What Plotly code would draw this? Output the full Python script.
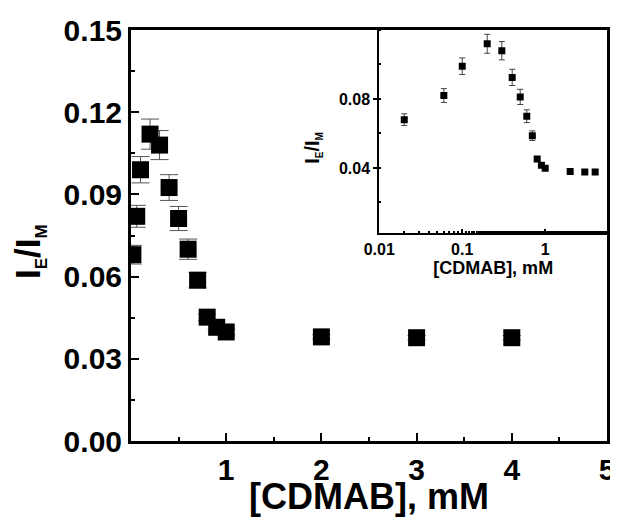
import plotly.graph_objects as go

# Data: [CDMAB] (mM), excimer/monomer ratio, error
conc = [0.02, 0.06, 0.1, 0.2, 0.3, 0.4, 0.5, 0.6, 0.7, 0.8, 0.9, 1.0, 2.0, 3.0, 4.0]
ratio = [0.068, 0.082, 0.099, 0.112, 0.108, 0.0925, 0.0812, 0.070, 0.0587, 0.0452, 0.0415, 0.0398, 0.038, 0.0377, 0.0377]
err = [0.0034, 0.0040, 0.0048, 0.0055, 0.0053, 0.0047, 0.0044, 0.0037, 0.0028, 0.0012, 0.0010, 0.0010, 0.0008, 0.0008, 0.0008]

main_xticks = [1, 2, 3, 4, 5]
main_yticks = [0.00, 0.03, 0.06, 0.09, 0.12, 0.15]
main_yticklabels = ["0.00", "0.03", "0.06", "0.09", "0.12", "0.15"]
inset_xticks = [0.01, 0.1, 1]
inset_xticklabels = ["0.01", "0.1", "1"]
inset_yticks = [0.04, 0.08]
inset_yticklabels = ["0.04", "0.08"]

FONT = "Liberation Sans, Arial, sans-serif"

fig = go.Figure()
fig.add_trace(go.Scatter(
    x=conc, y=ratio, mode="markers",
    marker=dict(symbol="square", size=17, color="black"),
    error_y=dict(type="data", array=err, color="#555555", thickness=1, width=9),
    xaxis="x", yaxis="y", showlegend=False))
fig.add_trace(go.Scatter(
    x=conc, y=ratio, mode="markers",
    marker=dict(symbol="square", size=7, color="black"),
    error_y=dict(type="data", array=err, color="#444444", thickness=1, width=3),
    xaxis="x2", yaxis="y2", showlegend=False))

# page body has an 8px default margin: figure is 610x509 drawn at (8,8)
fig.update_layout(
    width=610, height=509,
    margin=dict(l=123, r=11, t=22, b=76),
    paper_bgcolor="white", plot_bgcolor="white",
    font=dict(family=FONT, color="black"),
    xaxis=dict(
        range=[0, 5], domain=[0, 1], automargin=False,
        tickmode="array", tickvals=main_xticks,
        ticks="inside", ticklen=8, tickwidth=2, tickcolor="black",
        minor=dict(ticks="inside", ticklen=4, tickwidth=2, dtick=0.5, tick0=0, tickcolor="black"),
        showline=True, linewidth=3, linecolor="black", mirror=True,
        showgrid=False, zeroline=False,
        tickfont=dict(size=30, family=FONT, weight="bold"),
        title=dict(text="[CDMAB], mM", font=dict(size=36, family=FONT, weight="bold"), standoff=3),
    ),
    yaxis=dict(
        range=[0, 0.15], domain=[0, 1], automargin=False,
        tickmode="array", tickvals=main_yticks, ticktext=main_yticklabels,
        ticks="inside", ticklen=8, tickwidth=2, tickcolor="black",
        minor=dict(ticks="inside", ticklen=4, tickwidth=2, dtick=0.015, tick0=0, tickcolor="black"),
        showline=True, linewidth=3, linecolor="black", mirror=True,
        showgrid=False, zeroline=False,
        tickfont=dict(size=30, family=FONT, weight="bold"),
    ),
    xaxis2=dict(
        type="log", range=[-2, 0.745], domain=[0.5216, 1], anchor="y2", automargin=False,
        tickmode="array", tickvals=inset_xticks, ticktext=inset_xticklabels,
        ticks="inside", ticklen=4, tickwidth=1.5, tickcolor="black",
        minor=dict(ticks="inside", ticklen=2, tickwidth=1.5, tickcolor="black"),
        showline=True, linewidth=2, linecolor="black", mirror=False,
        showgrid=False, zeroline=False,
        tickfont=dict(size=16, family=FONT, weight="bold"),
        title=dict(text="[CDMAB], mM", font=dict(size=18, family=FONT, weight="bold"), standoff=4),
    ),
    yaxis2=dict(
        range=[0.002, 0.12], domain=[0.505, 1], anchor="x2", automargin=False,
        tickmode="array", tickvals=inset_yticks, ticktext=inset_yticklabels,
        ticks="outside", ticklen=4, tickwidth=1.5, tickcolor="black",
        minor=dict(ticks="inside", ticklen=2, tickwidth=1.5, dtick=0.02, tick0=0, tickcolor="black"),
        showline=True, linewidth=2, linecolor="black", mirror=False,
        showgrid=False, zeroline=False,
        tickfont=dict(size=16, family=FONT, weight="bold"),
    ),
    annotations=[
        dict(text="I<sub><span style='font-size:17px'>E</span></sub>/I<sub><span style='font-size:17px'>M</span></sub>",
             xref="paper", yref="paper", x=-0.212, y=0.46, textangle=-90,
             xanchor="center", yanchor="middle", showarrow=False,
             font=dict(size=35, family=FONT, weight="bold")),
        dict(text="I<sub><span style='font-size:10px'>E</span></sub>/I<sub><span style='font-size:10px'>M</span></sub>",
             xref="paper", yref="paper", x=0.382, y=0.713, textangle=-90,
             xanchor="center", yanchor="middle", showarrow=False,
             font=dict(size=20, family=FONT, weight="bold")),
    ],
)

fig.write_html("out.html")
